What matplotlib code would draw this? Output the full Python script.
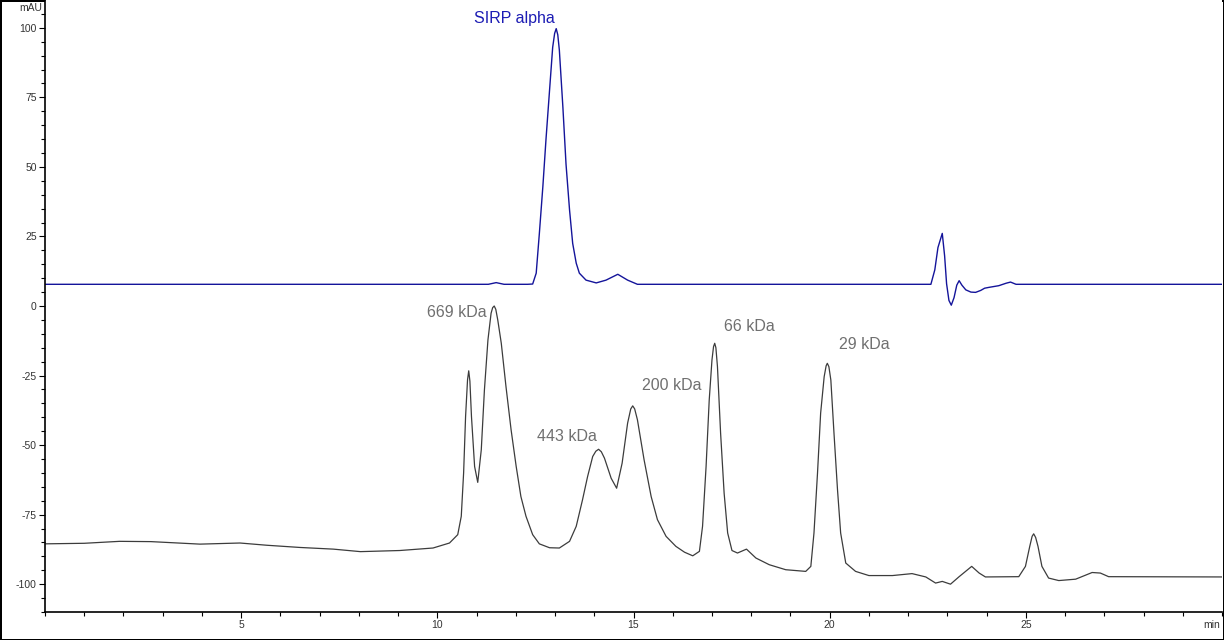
import matplotlib
matplotlib.use("Agg")
import matplotlib.pyplot as plt
from matplotlib.ticker import MultipleLocator

plt.rcParams['font.family'] = ['Liberation Sans Narrow', 'Liberation Sans', 'DejaVu Sans']
plt.rcParams['axes.unicode_minus'] = False

# SIRP alpha trace (blue): time (min), absorbance (mAU)
blue_t = [0, 11.3, 11.5, 11.7, 12.3, 12.43, 12.52, 12.60, 12.69, 12.77, 12.86, 12.94, 12.99,
          13.03, 13.07, 13.11, 13.20, 13.28, 13.37, 13.45, 13.54, 13.62, 13.79, 14.05, 14.30,
          14.6, 14.85, 15.1, 22.58, 22.68, 22.76, 22.87, 22.93, 22.98, 23.04, 23.1, 23.17,
          23.24, 23.3, 23.37, 23.47, 23.6, 23.72, 23.85, 23.95, 24.06, 24.31, 24.5, 24.61,
          24.75, 30]
blue_v = [7.8, 7.8, 8.4, 7.8, 7.8, 7.9, 11.8, 26, 43, 60, 77.5, 93, 98,
          99.7, 97.5, 92, 71.5, 51, 34.5, 22.5, 15.4, 11.8, 9.3, 8.3, 9.3,
          11.4, 9.3, 7.8, 7.8, 13, 21, 26.1, 18, 8, 2, 0.3, 3,
          7.5, 9.1, 7.5, 5.8, 5, 4.9, 5.6, 6.4, 6.7, 7.3, 8.2, 8.6,
          7.8, 7.8]

# standards trace (dark grey)
std_t = [0, 1.0, 1.9, 2.7, 3.95, 4.97, 5.65, 6.5, 7.35, 8.04, 9.04, 9.89, 10.31, 10.52,
         10.61, 10.67, 10.72, 10.77, 10.80, 10.83, 10.87, 10.95, 11.03, 11.12, 11.2, 11.29, 11.37,
         11.41, 11.45, 11.49, 11.54, 11.63, 11.75, 11.88, 12.01, 12.13, 12.26, 12.43, 12.6, 12.86,
         13.11, 13.37, 13.54, 13.7, 13.83, 13.96, 14.04, 14.11, 14.18, 14.26, 14.43, 14.57, 14.71,
         14.85, 14.93, 14.98, 15.03, 15.1, 15.27, 15.45, 15.61, 15.83, 16.08, 16.3, 16.51, 16.68,
         16.76, 16.85, 16.93, 17.0, 17.04, 17.07, 17.1, 17.14, 17.22, 17.31, 17.4, 17.51, 17.65,
         17.88, 18.12, 18.46, 18.88, 19.39, 19.52, 19.6, 19.69, 19.77, 19.86, 19.91, 19.94, 19.98,
         20.03, 20.11, 20.2, 20.28, 20.41, 20.66, 21.0, 21.6, 22.1, 22.45, 22.7, 22.87, 23.08,
         23.3, 23.62, 23.81, 23.97, 24.82, 24.99, 25.1, 25.16, 25.2, 25.25, 25.31, 25.41, 25.58,
         25.84, 26.27, 26.69, 26.9, 27.11, 30]
std_v = [-85.5, -85.3, -84.6, -84.7, -85.6, -85.2, -86, -86.8, -87.4, -88.3, -87.9, -87, -85.2, -82.2,
         -75.6, -60, -39.7, -26.5, -23.3, -27, -39.7, -57.7, -63.4, -51.7, -30.2, -12.2, -2.6,
         -0.6, 0, -1.2, -5, -13.4, -29, -44.5, -57.7, -68.5, -75.6, -82.2, -85.5, -86.9,
         -87, -84.6, -79.2, -69.7, -61.3, -54.1, -52.2, -51.5, -52.4, -54.7, -61.9, -65.5, -56.5,
         -42.1, -37, -35.9, -37, -40.9, -55.3, -68.5, -76.8, -82.8, -86.4, -88.5, -89.8, -88.2,
         -79.2, -57.7, -33.8, -19.4, -14.6, -13.4, -15, -21.8, -45.7, -67.3, -81.6, -87.9, -88.8,
         -87.4, -90.6, -93, -94.8, -95.4, -93.6, -81.6, -60.1, -38.5, -25.4, -21.5, -20.6, -21.8,
         -26.6, -45.7, -66.1, -81.6, -92.4, -95.4, -96.9, -96.9, -96.2, -97.4, -99.6, -99, -100,
         -97.3, -93.6, -96, -97.4, -97.3, -93.6, -86.4, -82.8, -81.9, -83.2, -86.4, -93.6, -97.8,
         -98.7, -98.2, -95.8, -96, -97.3, -97.4]

# peak labels
label_text = ["SIRP alpha", "669 kDa", "443 kDa", "200 kDa", "66 kDa", "29 kDa"]
label_t = [10.94, 9.74, 12.54, 15.21, 17.3, 20.25]
label_v = [103.4, -2.5, -47, -28.7, -7.2, -14]
label_col = ["#1c1cb4", "#707070", "#707070", "#707070", "#707070", "#707070"]

fig = plt.figure(figsize=(12.24, 6.4), dpi=100)
fig.patch.set_edgecolor("black")
fig.patch.set_linewidth(2)
ax = fig.add_axes([45/1224, 28/640, 1177/1224, 612/640])

ax.plot(std_t, std_v, color="#3c3c3c", lw=0.9)
ax.plot(blue_t, blue_v, color="#14149a", lw=1.0)

for s, t, v, c in zip(label_text, label_t, label_v, label_col):
    ax.text(t, v, s, color=c, fontsize=11.5, ha="left", va="center")

ax.set_xlim(0, 30)
ax.set_ylim(-110, 110)
ax.xaxis.set_major_locator(MultipleLocator(5))
ax.xaxis.set_minor_locator(MultipleLocator(1))
ax.yaxis.set_major_locator(MultipleLocator(25))
ax.yaxis.set_minor_locator(MultipleLocator(5))
ax.set_xticks([5, 10, 15, 20, 25])
ax.tick_params(which="both", direction="out", labelsize=7.5, colors="black", labelcolor="#333333")
ax.tick_params(which="major", length=4, width=0.8, pad=2)
ax.tick_params(which="minor", length=3, width=0.8)
ax.spines["top"].set_visible(False)
ax.spines["right"].set_visible(False)
ax.spines["left"].set_linewidth(1.2)
ax.spines["bottom"].set_linewidth(1.2)

fig.text(42/1224, 1 - 8/640, "mAU", fontsize=7.5, color="#333333", ha="right", va="center")
fig.text(1220/1224, 1 - 625/640, "min", fontsize=7.5, color="#333333", ha="right", va="center")

fig.savefig("out.png", dpi=100, edgecolor=fig.get_edgecolor())
